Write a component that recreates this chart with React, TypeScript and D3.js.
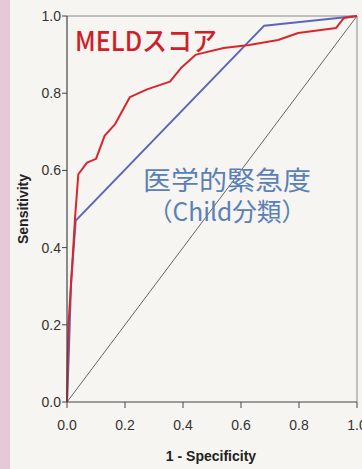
import React from "react";
import * as d3 from "d3";

// 1 - specificity / sensitivity pairs
const meldX = [0, 0.002, 0.005, 0.016, 0.028, 0.039, 0.069, 0.1, 0.13, 0.166, 0.217, 0.276, 0.355, 0.393, 0.445, 0.54, 0.628, 0.728, 0.797, 0.928, 0.955, 1];
const meldY = [0, 0.1, 0.2, 0.33, 0.48, 0.59, 0.62, 0.63, 0.69, 0.72, 0.79, 0.81, 0.83, 0.865, 0.9, 0.917, 0.925, 0.938, 0.956, 0.969, 0.995, 1];

const childX = [0, 0.006, 0.014, 0.03, 0.68, 1];
const childY = [0, 0.12, 0.31, 0.47, 0.975, 1];

const ticks = [0, 0.2, 0.4, 0.6, 0.8, 1.0];

const W = 362;
const H = 469;
const margin = { left: 67, right: 5, top: 16, bottom: 67 };

export default function App() {
  const x = d3.scaleLinear().domain([0, 1]).range([margin.left, W - margin.right]);
  const y = d3.scaleLinear().domain([0, 1]).range([H - margin.bottom, margin.top]);

  const line = d3
    .line<[number, number]>()
    .x((d) => x(d[0]))
    .y((d) => y(d[1]));

  const meld = meldX.map((v, i) => [v, meldY[i]] as [number, number]);
  const child = childX.map((v, i) => [v, childY[i]] as [number, number]);

  const x0 = x(0), x1 = x(1), y0 = y(0), y1 = y(1);
  const tickFont = "'Liberation Sans', Arial, sans-serif";

  return (
    <svg
      width={W}
      height={H}
      style={{ position: "absolute", left: 0, top: 0, display: "block" }}
    >
      <rect x={0} y={0} width={W} height={H} fill="#f6f5f1" />
      <rect x={0} y={0} width={10} height={H} fill="#e7c8d6" />

      {/* frame */}
      <line x1={x0} x2={x1} y1={y1} y2={y1} stroke="#8a8a8a" strokeWidth={1} />
      <line x1={x1} x2={x1} y1={y1} y2={y0} stroke="#8a8a8a" strokeWidth={1} />

      {/* reference diagonal */}
      <path d={line([[0, 0], [1, 1]]) || ""} stroke="#555" strokeWidth={0.9} fill="none" />

      {/* curves */}
      <path d={line(child) || ""} stroke="#5a66b8" strokeWidth={2} fill="none" strokeLinejoin="round" />
      <path d={line(meld) || ""} stroke="#d9262e" strokeWidth={2} fill="none" strokeLinejoin="round" />

      {/* axes */}
      <line x1={x0} x2={x0} y1={y1} y2={y0} stroke="#444" strokeWidth={1.2} />
      <line x1={x0} x2={x1} y1={y0} y2={y0} stroke="#444" strokeWidth={1.2} />

      {ticks.map((t) => (
        <g key={"y" + t}>
          <line x1={x0 - 5} x2={x0} y1={y(t)} y2={y(t)} stroke="#444" strokeWidth={1} />
          <text
            x={x0 - 6}
            y={y(t)}
            dy="0.35em"
            textAnchor="end"
            fontFamily={tickFont}
            fontSize={14}
            fill="#333"
          >
            {t.toFixed(1)}
          </text>
        </g>
      ))}
      {ticks.map((t) => (
        <g key={"x" + t}>
          <line x1={x(t)} x2={x(t)} y1={y0} y2={y0 + 6} stroke="#444" strokeWidth={1} />
          <text
            x={x(t)}
            y={y0 + 28}
            textAnchor="middle"
            fontFamily={tickFont}
            fontSize={14}
            fill="#333"
          >
            {t.toFixed(1)}
          </text>
        </g>
      ))}

      <text
        x={211}
        y={461}
        textAnchor="middle"
        fontFamily={tickFont}
        fontWeight="bold"
        fontSize={14}
        fill="#222"
      >
        1 - Specificity
      </text>
      <text
        transform={`translate(28, ${y(0.5)}) rotate(-90)`}
        textAnchor="middle"
        fontFamily={tickFont}
        fontWeight="bold"
        fontSize={14}
        fill="#222"
      >
        Sensitivity
      </text>

      <text
        x={75}
        y={51}
        fontFamily="'Noto Sans CJK JP', sans-serif"
        fontSize={27}
        fontWeight={500}
        fill="#cf1f2a"
        textLength={142}
        lengthAdjust="spacingAndGlyphs"
      >
        MELDスコア
      </text>
      <text
        x={227}
        y={190}
        textAnchor="middle"
        fontFamily="'Noto Sans CJK JP', sans-serif"
        fontSize={26}
        fill="#5a80b8"
        textLength={168}
        lengthAdjust="spacingAndGlyphs"
      >
        医学的緊急度
      </text>
      <text
        x={227}
        y={221}
        textAnchor="middle"
        fontFamily="'Noto Sans CJK JP', sans-serif"
        fontSize={25}
        fill="#5a80b8"
        textLength={158}
        lengthAdjust="spacingAndGlyphs"
      >
        （Child分類）
      </text>
    </svg>
  );
}
